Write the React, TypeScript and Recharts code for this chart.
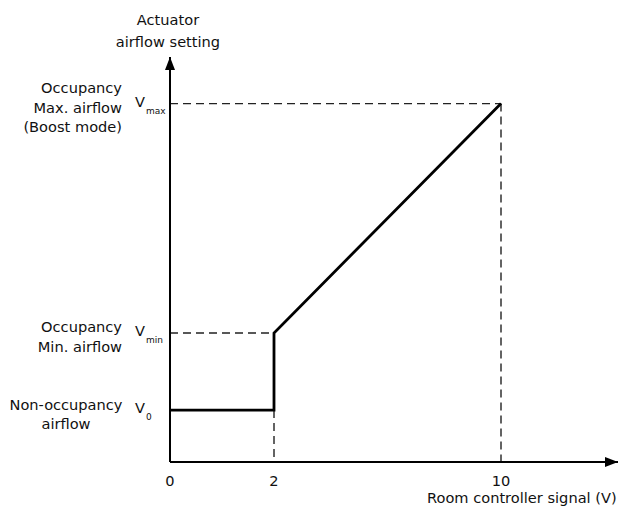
import React from 'react';
import { LineChart, Line, XAxis, YAxis, ReferenceLine } from 'recharts';

// ---- data ----
const xTicks = [0, 2, 10];
const xTickLabels = ['0', '2', '10'];
const airflowLevels = [14.5, 36, 100]; // V0, Vmin, Vmax
const levelSubscripts = ['0', 'min', 'max'];
const levelDescriptions = [
  ['Non-occupancy', 'airflow'],
  ['Occupancy', 'Min. airflow'],
  ['Occupancy', 'Max. airflow', '(Boost mode)'],
];
const curveSignal = [0, 2, 2, 10];
const curveAirflow = [14.5, 14.5, 36, 100];
const yAxisTitle = ['Actuator', 'airflow setting'];
const xAxisTitle = 'Room controller signal (V)';

const curveData = curveSignal.map((x, i) => ({ x, y: curveAirflow[i] }));

// ---- non-uniform (schematic) x scale: piecewise linear ----
const scaleKnots = [0, 2, 10, 14];
const scaleShare = [0, 104 / 448, 331 / 448, 1];

function warp(v: number): number {
  for (let i = 0; i < scaleKnots.length - 1; i++) {
    const a = scaleKnots[i], b = scaleKnots[i + 1];
    if (v <= b || i === scaleKnots.length - 2) {
      const t = (v - a) / (b - a);
      return scaleShare[i] + t * (scaleShare[i + 1] - scaleShare[i]);
    }
  }
  return 0;
}

function makeScale(dom: number[] = [0, 14], rng: number[] = [0, 1]): any {
  let d = dom.slice();
  let r = rng.slice();
  const s: any = (v: number) => {
    const w0 = warp(d[0]);
    const w1 = warp(d[d.length - 1]);
    const t = (warp(v) - w0) / (w1 - w0);
    return r[0] + t * (r[r.length - 1] - r[0]);
  };
  s.domain = (nd?: number[]) => {
    if (nd === undefined) return d.slice();
    d = nd.slice();
    return s;
  };
  s.range = (nr?: number[]) => {
    if (nr === undefined) return r.slice();
    r = nr.slice();
    return s;
  };
  s.copy = () => makeScale(d, r);
  s.ticks = () => xTicks.slice();
  s.clamp = () => s;
  s.nice = () => s;
  s.tickFormat = () => (v: any) => String(v);
  return s;
}

const xScale = makeScale();

const FONT = 'DejaVu Sans, sans-serif';
const FS = 14.6;
const INK = '#111';
const descAnchor = ['middle', 'end', 'end'];
const descX = [-104, -48, -48];

const YTick = (props: any) => {
  const { x, y, payload } = props;
  const i = airflowLevels.indexOf(payload.value);
  if (i < 0) return null;
  const lines = levelDescriptions[i];
  const n = lines.length;
  const step = 19.5;
  const start = -((n - 1) * step) / 2 + 4;
  return (
    <g>
      {lines.map((l, k) => (
        <text
          key={k}
          x={x + descX[i]}
          y={y + start + k * step}
          dy="0.36em"
          textAnchor={descAnchor[i]}
          fontFamily={FONT}
          fontSize={FS}
          fill={INK}
        >
          {l}
        </text>
      ))}
      <text x={x - 35} y={y - 2} dy="0.36em" fontFamily={FONT} fontSize={FS} fill={INK}>
        V
      </text>
      <text x={x - 24} y={y + 7} dy="0.36em" fontFamily={FONT} fontSize={9} fill={INK}>
        {levelSubscripts[i]}
      </text>
    </g>
  );
};

const XTick = (props: any) => {
  const { x, y, payload } = props;
  const i = xTicks.indexOf(payload.value);
  if (i < 0) return null;
  return (
    <text x={x} y={y + 19} dy="0.36em" textAnchor="middle" fontFamily={FONT} fontSize={FS} fill={INK}>
      {xTickLabels[i]}
    </text>
  );
};

const dash = { stroke: '#222', strokeWidth: 1.4, strokeDasharray: '8 5' };

export default function App() {
  return (
    <div style={{ position: 'absolute', left: 0, top: 0, width: 619, height: 506, background: '#fff' }}>
      <LineChart
        width={619}
        height={506}
        data={curveData}
        margin={{ top: 57, right: 1, bottom: 0, left: 0 }}
      >
        <defs>
          <marker
            id="arrowHead"
            markerUnits="userSpaceOnUse"
            markerWidth={14}
            markerHeight={11}
            refX={13}
            refY={5}
            orient="auto-start-reverse"
          >
            <path d="M0,0 L13,5 L0,10 z" fill="#000" />
          </marker>
        </defs>
        <XAxis
          dataKey="x"
          type="number"
          domain={[0, 14]}
          scale={xScale}
          ticks={xTicks}
          tick={<XTick />}
          tickLine={false}
          tickSize={0}
          tickMargin={0}
          height={44}
          axisLine={{ stroke: '#000', strokeWidth: 2, markerEnd: 'url(#arrowHead)' }}
          allowDataOverflow
        />
        <YAxis
          type="number"
          domain={[0, 113]}
          ticks={airflowLevels}
          tick={<YTick />}
          tickLine={false}
          tickSize={0}
          tickMargin={0}
          width={170}
          axisLine={{ stroke: '#000', strokeWidth: 2, markerStart: 'url(#arrowHead)' }}
          allowDataOverflow
        />
        <ReferenceLine segment={[{ x: 0, y: airflowLevels[2] }, { x: 10, y: airflowLevels[2] }]} {...dash} />
        <ReferenceLine segment={[{ x: 10, y: airflowLevels[2] }, { x: 10, y: 0 }]} {...dash} />
        <ReferenceLine segment={[{ x: 0, y: airflowLevels[1] }, { x: 2, y: airflowLevels[1] }]} {...dash} />
        <ReferenceLine segment={[{ x: 2, y: airflowLevels[0] }, { x: 2, y: 0 }]} {...dash} />
        <Line
          type="linear"
          dataKey="y"
          stroke="#000"
          strokeWidth={2.8}
          strokeLinejoin="miter"
          dot={false}
          activeDot={false}
          isAnimationActive={false}
        />
        <text x={168} y={20} dy="0.36em" textAnchor="middle" fontFamily={FONT} fontSize={FS} fill={INK}>
          {yAxisTitle[0]}
        </text>
        <text x={168} y={42} dy="0.36em" textAnchor="middle" fontFamily={FONT} fontSize={FS} fill={INK}>
          {yAxisTitle[1]}
        </text>
        <text x={427} y={503} fontFamily={FONT} fontSize={FS} fill={INK}>
          {xAxisTitle}
        </text>
      </LineChart>
    </div>
  );
}
